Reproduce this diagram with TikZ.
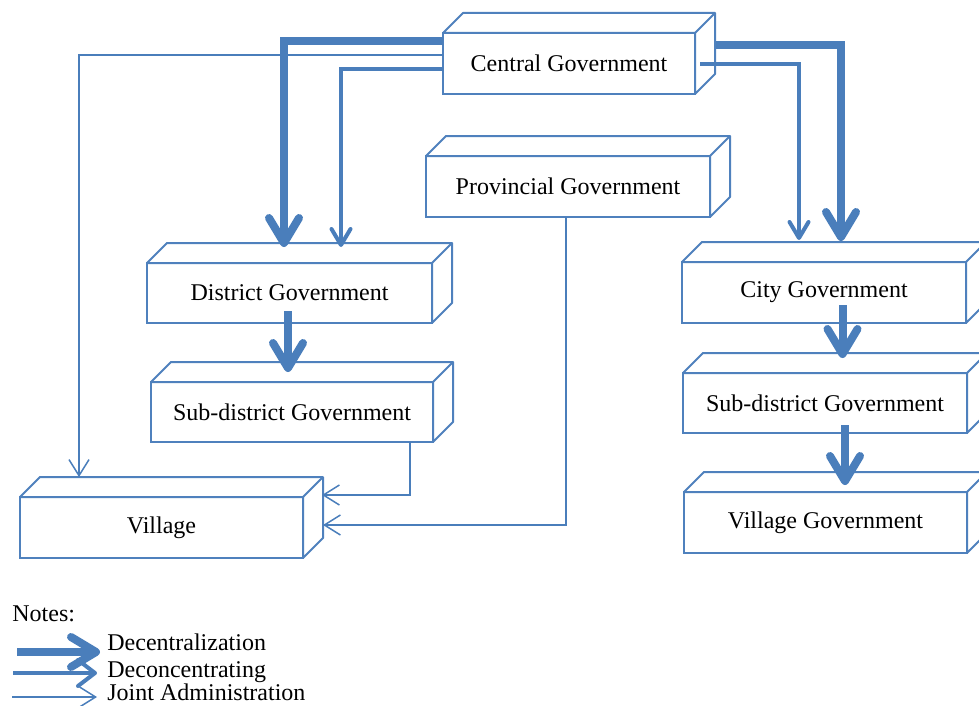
\documentclass[tikz,border=0pt]{standalone}
\usepackage{fontspec}
\setmainfont{Liberation Serif}
\usetikzlibrary{arrows.meta,calc}
\definecolor{boxblue}{RGB}{79,129,189}
\definecolor{arrowblue}{RGB}{74,126,187}
% top and right faces of a box node, drawn behind-up-right of its front face
\newcommand\cubefaces[1]{%
  \path[face] (#1.north west) -- ++(10pt,10pt)
    -- ([shift={(10pt,10pt)}]#1.north east)
    -- ([shift={(10pt,10pt)}]#1.south east)
    -- (#1.south east) -- (#1.north east) -- cycle;
  \draw[face] (#1.north east) -- ++(10pt,10pt);}
\begin{document}
\begin{tikzpicture}[x=0.5pt,y=-0.5pt,
  cuboid/.style={draw=boxblue, line width=1pt, fill=white, inner sep=0pt,
    outer sep=0pt, font=\fontsize{12pt}{14pt}\selectfont},
  face/.style={draw=boxblue, line width=1pt, fill=white, line join=round},
  decen/.style={draw=arrowblue, line width=4pt,
    -{Straight Barb[length=12.5pt,width=15pt,round]}},
  decon/.style={draw=arrowblue, line width=2pt,
    -{Straight Barb[length=8pt,width=9.5pt,round]}},
  joint/.style={draw=arrowblue, line width=0.75pt,
    -{Straight Barb[length=8pt,width=10pt]}},
  note/.style={font=\fontsize{12pt}{14pt}\selectfont, inner sep=0pt,
    anchor=base west}
]
\useasboundingbox (0,0) rectangle (979,706);

% government levels
\node[cuboid, minimum width=126pt, minimum height=30.5pt] (cg) at (569,63.5) {Central Government};
\cubefaces{cg}
\node[cuboid, minimum width=142pt, minimum height=30.5pt] (pg) at (568,186.5) {Provincial Government};
\cubefaces{pg}
\node[cuboid, minimum width=142.5pt, minimum height=30pt] (dg) at (289.5,293) {District Government};
\cubefaces{dg}
\node[cuboid, minimum width=141pt, minimum height=30pt] (sdl) at (292,412) {Sub-district Government};
\cubefaces{sdl}
\node[cuboid, minimum width=141.5pt, minimum height=30.5pt] (vil) at (161.5,527.5) {Village};
\cubefaces{vil}
\node[cuboid, minimum width=142pt, minimum height=30.5pt] (city) at (824,292.5) {City Government};
\cubefaces{city}
\node[cuboid, minimum width=142pt, minimum height=30pt] (sdr) at (825,403) {Sub-district Government};
\cubefaces{sdr}
\node[cuboid, minimum width=141.5pt, minimum height=30.5pt] (vg) at (825.5,522.5) {Village Government};
\cubefaces{vg}

% decentralization
\draw[decen] ([yshift=11.25pt]cg.west) -| ([xshift=-2.75pt,yshift=8pt]dg.north);
\draw[decen] ([xshift=10.5pt,yshift=9.25pt]cg.east) -| ([xshift=8.5pt,yshift=10.5pt]city.north);
\draw[decen] ([xshift=-0.75pt,yshift=6pt]dg.south) -- ([xshift=-0.75pt,yshift=5pt]dg.south |- sdl.north);
\draw[decen] ([xshift=9.25pt,yshift=9pt]city.south) -- ([xshift=9.25pt,yshift=7.5pt]city.south |- sdr.north);
\draw[decen] ([xshift=10pt,yshift=4pt]sdr.south) -- ([xshift=10pt,yshift=3.5pt]sdr.south |- vg.north);

% deconcentrating
\draw[decon] ([yshift=-2.75pt]cg.west) -| ([xshift=25.75pt,yshift=8pt]dg.north);
\draw[decon] ([xshift=2.5pt,yshift=-0.25pt]cg.east) -| ([xshift=-12.5pt,yshift=11pt]city.north);

% joint administration
\draw[joint] ([yshift=4.25pt]cg.west) -| ([xshift=-41.25pt,yshift=10pt]vil.north);
\draw[joint] ([xshift=59pt]sdl.south) |- ([xshift=9.5pt,yshift=16.25pt]vil.east);
\draw[joint] ([xshift=-1pt]pg.south) |- ([xshift=10pt,yshift=1.25pt]vil.east);

% legend
\node[note] (notes) at (12,621) {Notes:};
\node[note] (ldec) at (107,650) {Decentralization};
\node[note] (ldcn) at (107,677) {Deconcentrating};
\node[note] (ljnt) at (107,700) {Joint Administration};
\coordinate (a1) at (17,652);
\coordinate (a2) at (13,673);
\coordinate (a3) at (12,697);
\draw[decen] (a1) -- ($(a1 -| ldec.west)+(-7,0)$);
\draw[decon, -{Straight Barb[length=8.5pt,width=13pt,round]}] (a2) -- ($(a2 -| ldcn.west)+(-10,0)$);
\draw[joint] (a3) -- ($(a3 -| ljnt.west)+(-10,0)$);
\end{tikzpicture}
\end{document}
